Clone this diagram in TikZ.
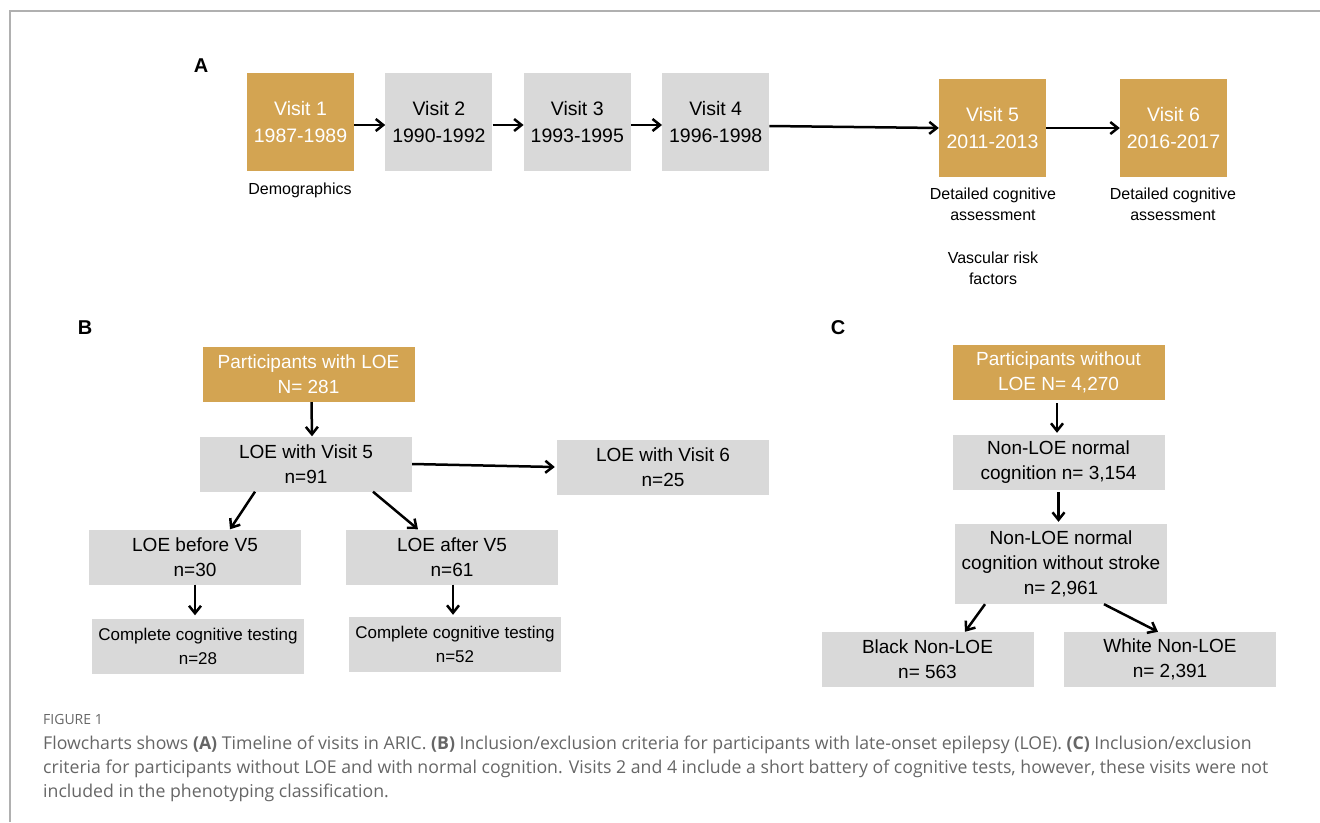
\documentclass[tikz,border=0pt]{standalone}
\usepackage{fontspec}
\setmainfont{Liberation Sans}
\newfontfamily\capfont{Open Sans}
\usepackage{tikz}
\usetikzlibrary{arrows.meta,positioning}
\definecolor{gold}{RGB}{211,164,82}
\definecolor{boxgray}{RGB}{217,217,217}
\definecolor{capgray}{RGB}{102,102,102}
\definecolor{framegray}{RGB}{176,176,176}

\begin{document}
\begin{tikzpicture}[
x=1pt, y=-1pt,
node distance=31pt,
box/.style={
rectangle,
fill=boxgray,
minimum width=212pt,
minimum height=55pt,
inner sep=0pt,
align=center,
font=\fontsize{19}{25}\selectfont
},
goldbox/.style={box, fill=gold, text=white},
testbox/.style={box, font=\fontsize{17}{24}\selectfont},
visit/.style={
rectangle,
fill=boxgray,
minimum width=107pt,
minimum height=98pt,
inner sep=0pt,
align=center,
font=\fontsize{19.5}{27}\selectfont
},
goldvisit/.style={visit, fill=gold, text=white},
note/.style={align=center, font=\fontsize{16}{21}\selectfont},
panel/.style={font=\fontsize{20}{20}\selectfont\bfseries},
caption/.style={anchor=base west, inner sep=0pt, text=capgray, font=\capfont\fontsize{17.7}{24}\selectfont},
arrow/.style={-{Straight Barb[length=7.5pt,width=12pt]}, line width=2.5pt}
]

\useasboundingbox (0,0) rectangle (1320,822);
\draw[framegray, line width=1.5pt] (10,822) -- (10,11) -- (1320,11);

% A: timeline
\node[panel] (lblA) at (201,66) {A};
\node[goldvisit] (v1) at (300.5,122) {Visit 1\\1987-1989};
\node[visit, right=of v1] (v2) {Visit 2\\1990-1992};
\node[visit, right=of v2] (v3) {Visit 3\\1993-1995};
\node[visit, right=of v3] (v4) {Visit 4\\1996-1998};
\node[goldvisit] (v5) at (992.5,128) {Visit 5\\2011-2013};
\node[goldvisit] (v6) at (1173.5,128) {Visit 6\\2016-2017};

\node[note] (demo) at (300,190) {Demographics};
\node[note] (det5) at (993,204) {Detailed cognitive\\assessment};
\node[note] (vasc) at (993,268) {Vascular risk\\factors};
\node[note] (det6) at (1173,204) {Detailed cognitive\\assessment};

\draw[arrow] ([yshift=-3pt]v1.east) -- ([yshift=-3pt]v2.west);
\draw[arrow] ([yshift=-3pt]v2.east) -- ([yshift=-3pt]v3.west);
\draw[arrow] ([yshift=-3pt]v3.east) -- ([yshift=-3pt]v4.west);
\draw[arrow] ([yshift=-4pt]v4.east) -- (v5.west);
\draw[arrow] (v5.east) -- (v6.west);

% B: participants with LOE
\node[panel] (lblB) at (85,328) {B};
\node[goldbox] (part) at (308.5,374.5) {Participants with LOE\\N= 281};
\node[box] (loe5) at (306,464) {LOE with Visit 5\\n=91};
\node[box] (loe6) at (663,467) {LOE with Visit 6\\n=25};
\node[box] (before) at (195,557) {LOE before V5\\n=30};
\node[box] (after) at (452,557) {LOE after V5\\n=61};
\node[testbox] (cbefore) at (198,646) {Complete cognitive testing\\n=28};
\node[testbox] (cafter) at (455,644.5) {Complete cognitive testing\\n=52};

\draw[arrow] ([xshift=3pt]part.south) -- ([xshift=6pt]loe5.north);
\draw[arrow] (loe5.east) -- ([xshift=-2pt]loe6.west);
\draw[arrow] ([xshift=-51pt]loe5.south) -- ([xshift=35pt]before.north);
\draw[arrow] ([xshift=67pt]loe5.south) -- ([xshift=-34pt]after.north);
\draw[arrow, shorten >=3pt] (before.south) -- (before.south |- cbefore.north);
\draw[arrow, shorten >=2pt] ([xshift=1pt]after.south) -- ([xshift=1pt]after.south |- cafter.north);

% C: participants without LOE
\node[panel] (lblC) at (838,328) {C};
\node[goldbox] (partc) at (1058.5,372.5) {Participants without\\LOE N= 4,270};
\node[box] (normal) at (1058.5,462.5) {Non-LOE normal\\cognition n= 3,154};
\node[box, minimum height=80pt] (nostroke) at (1061,564) {Non-LOE normal\\cognition without stroke\\n= 2,961};
\node[box] (black) at (927.5,659.5) {Black Non-LOE\\n= 563};
\node[box] (white) at (1170,659.5) {White Non-LOE\\n= 2,391};

\draw[arrow, shorten <=3pt, shorten >=2pt] ([xshift=-1.5pt]partc.south) -- ([xshift=-1.5pt]partc.south |- normal.north);
\draw[arrow, shorten <=2pt, shorten >=2pt] (normal.south) -- (normal.south |- nostroke.north);
\draw[arrow] ([xshift=-76pt]nostroke.south) -- ([xshift=37.5pt]black.north);
\draw[arrow] ([xshift=43pt]nostroke.south) -- ([xshift=-12pt]white.north);

% caption
\node[caption, font=\capfont\fontsize{14}{14}\selectfont] (fig) at (43,724) {FIGURE 1};
\node[caption] (cap1) at (43,749) {Flowcharts shows \textbf{(A)} Timeline of visits in ARIC. \textbf{(B)} Inclusion/exclusion criteria for participants with late-onset epilepsy (LOE). \textbf{(C)} Inclusion/exclusion};
\node[caption] (cap2) at (43,773) {criteria for participants without LOE and with normal cognition. Visits 2 and 4 include a short battery of cognitive tests, however, these visits were not};
\node[caption] (cap3) at (43,797) {included in the phenotyping classification.};

\end{tikzpicture}
\end{document}
